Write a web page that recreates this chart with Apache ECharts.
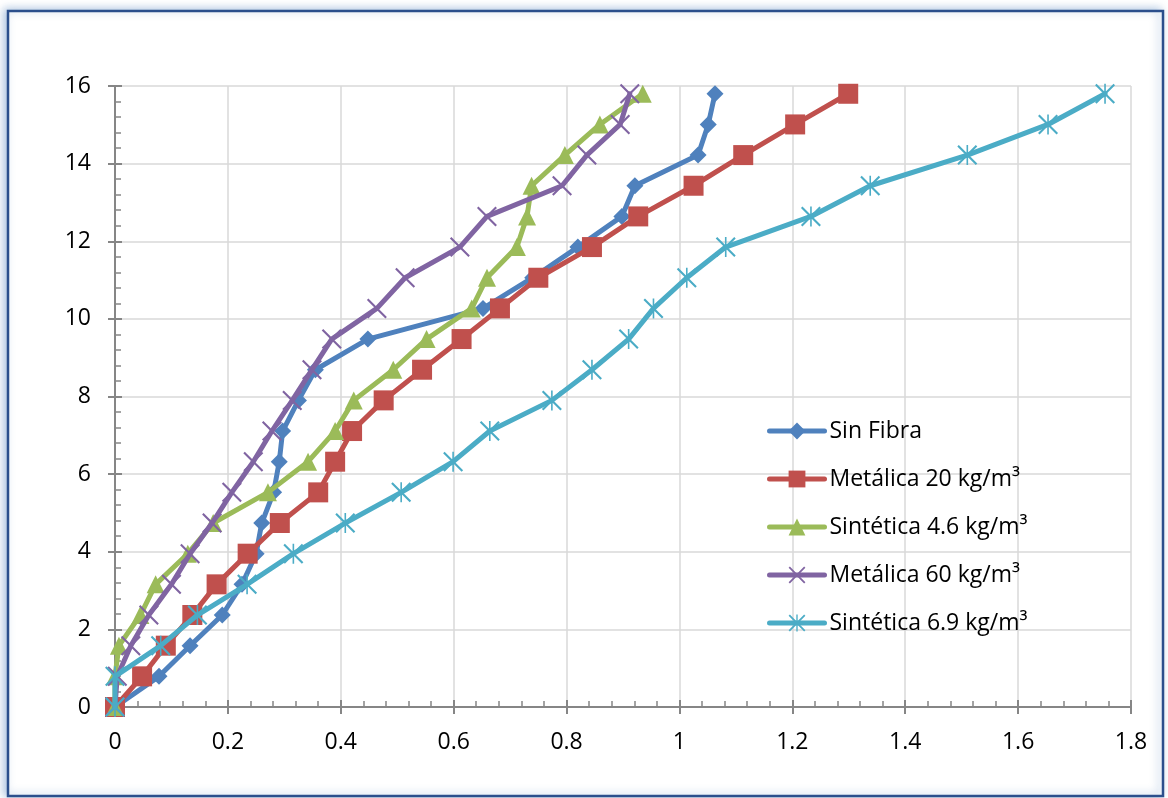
<!DOCTYPE html>
<html>
<head>
<meta charset="utf-8">
<script src="https://cdn.jsdelivr.net/npm/echarts@6/dist/echarts.min.js"></script>
<style>
  html, body { margin: 0; padding: 0; background: #ffffff; }
  #chart { width: 1168px; height: 798px; }
</style>
</head>
<body>
<div id="chart"></div>
<script>
// Load levels (vertical axis), shared by every series
const loadLevels = [0, 0.79, 1.58, 2.37, 3.16, 3.95, 4.74, 5.53, 6.32, 7.11, 7.9,
                    8.69, 9.48, 10.27, 11.06, 11.85, 12.64, 13.43, 14.22, 15.01, 15.8];

// Horizontal readings for each load level
const sinFibra      = [0, 0.078, 0.133, 0.19, 0.225, 0.25, 0.26, 0.281, 0.291, 0.297, 0.325,
                       0.355, 0.448, 0.652, 0.74, 0.82, 0.898, 0.921, 1.033, 1.051, 1.063];
const metalica20    = [0, 0.048, 0.09, 0.137, 0.18, 0.235, 0.292, 0.36, 0.39, 0.42, 0.476,
                       0.544, 0.614, 0.682, 0.75, 0.845, 0.927, 1.025, 1.113, 1.205, 1.299];
const sintetica46   = [0, 0, 0.007, 0.045, 0.072, 0.129, 0.174, 0.271, 0.342, 0.39, 0.423,
                       0.493, 0.552, 0.632, 0.659, 0.712, 0.73, 0.738, 0.797, 0.859, 0.935];
const metalica60    = [0, 0.004, 0.028, 0.06, 0.1, 0.133, 0.172, 0.207, 0.245, 0.278, 0.314,
                       0.349, 0.384, 0.464, 0.514, 0.611, 0.659, 0.792, 0.836, 0.895, 0.912];
const sintetica69   = [0, 0, 0.081, 0.146, 0.234, 0.316, 0.408, 0.507, 0.599, 0.664, 0.774,
                       0.845, 0.91, 0.954, 1.013, 1.082, 1.233, 1.338, 1.51, 1.653, 1.754];

const seriesNames = ['Sin Fibra', 'Metálica 20 kg/m³', 'Sintética 4.6 kg/m³',
                     'Metálica 60 kg/m³', 'Sintética 6.9 kg/m³'];

// Tick labels
const xTickLabels = ['0', '0.2', '0.4', '0.6', '0.8', '1', '1.2', '1.4', '1.6', '1.8'];
const yTickLabels = ['0', '2', '4', '6', '8', '10', '12', '14', '16'];

const colors = ['#4F81BD', '#C0504D', '#9BBB59', '#8064A2', '#4BACC6'];

// Marker shapes: thin X and asterisk (X plus vertical bar)
const crossPath = 'path://M0,1.5 L1.5,0 L10,8.5 L18.5,0 L20,1.5 L11.5,10 L20,18.5 L18.5,20 L10,11.5 L1.5,20 L0,18.5 L8.5,10 Z';
const starPath = 'path://M0,1.5 L1.5,0 L10,8.5 L18.5,0 L20,1.5 L11.5,10 L20,18.5 L18.5,20 L10,11.5 L1.5,20 L0,18.5 L8.5,10 Z M9.2,0 L10.8,0 L10.8,20 L9.2,20 Z';

const values = [sinFibra, metalica20, sintetica46, metalica60, sintetica69];
const symbols = ['diamond', 'rect', 'triangle', crossPath, starPath];
const symbolSizes = [17, 20, 18, 20, 20];

const FONT = '"Open Sans", "Liberation Sans", sans-serif';
const AXIS_GRAY = '#868686';

const series = values.map((xs, s) => ({
  name: seriesNames[s],
  type: 'line',
  xAxisIndex: 0,
  yAxisIndex: 0,
  data: loadLevels.map((y, i) => [xs[i], y]),
  symbol: symbols[s],
  symbolSize: symbolSizes[s],
  showSymbol: true,
  lineStyle: { color: colors[s], width: 5, join: 'round', cap: 'round' },
  itemStyle: { color: colors[s] },
  emphasis: { disabled: true },
  z: 3 + s
}));

const grid = { left: 115, right: 37, top: 86, bottom: 91 };

const chart = echarts.init(document.getElementById('chart'), null, { renderer: 'canvas' });
chart.setOption({
  animation: false,
  color: colors,
  textStyle: { fontFamily: FONT },
  graphic: [{
    type: 'rect',
    z: -100,
    silent: true,
    shape: { x: 8, y: 11, width: 1155, height: 785 },
    style: {
      fill: '#ffffff',
      stroke: '#2B4F8C',
      lineWidth: 2.5,
      shadowBlur: 8,
      shadowOffsetX: -3,
      shadowOffsetY: -1,
      shadowColor: 'rgba(79,129,189,0.45)'
    }
  }],
  grid: grid,
  legend: {
    orient: 'vertical',
    left: 762,
    top: 413,
    padding: 5,
    itemWidth: 55,
    itemHeight: 21,
    itemGap: 22,
    selectedMode: false,
    lineStyle: { width: 5 },
    textStyle: { fontFamily: FONT, fontSize: 23, color: '#000', lineHeight: 26 },
    data: seriesNames
  },
  xAxis: [{
    type: 'value',
    min: 0, max: 1.8, interval: 0.2,
    axisLine: { show: true, lineStyle: { color: AXIS_GRAY, width: 2 } },
    axisTick: { show: true, inside: true, length: 7, lineStyle: { color: AXIS_GRAY, width: 2 } },
    minorTick: { show: true, splitNumber: 5, length: 6, lineStyle: { color: AXIS_GRAY, width: 1.5 } },
    splitLine: { show: true, lineStyle: { color: '#D9D9D9', width: 1.5 } },
    axisLabel: {
      margin: 24, fontSize: 23, color: '#000', fontFamily: FONT,
      formatter: (v, i) => xTickLabels[i]
    }
  }, {
    type: 'value',
    position: 'bottom',
    min: 0, max: 1.8, interval: 0.2,
    axisLine: { show: false },
    axisTick: { show: true, inside: false, length: 7, lineStyle: { color: AXIS_GRAY, width: 2 } },
    splitLine: { show: false },
    axisLabel: { show: false }
  }],
  yAxis: [{
    type: 'value',
    min: 0, max: 16, interval: 2,
    axisLine: { show: true, lineStyle: { color: AXIS_GRAY, width: 2 } },
    axisTick: { show: true, inside: true, length: 7, lineStyle: { color: AXIS_GRAY, width: 2 } },
    minorTick: { show: true, splitNumber: 5, length: 6, lineStyle: { color: AXIS_GRAY, width: 1.5 } },
    splitLine: { show: true, lineStyle: { color: '#D9D9D9', width: 1.5 } },
    axisLabel: {
      margin: 24, fontSize: 23, color: '#000', fontFamily: FONT,
      formatter: (v, i) => yTickLabels[i]
    }
  }, {
    type: 'value',
    position: 'left',
    min: 0, max: 16, interval: 2,
    axisLine: { show: false },
    axisTick: { show: true, inside: false, length: 7, lineStyle: { color: AXIS_GRAY, width: 2 } },
    splitLine: { show: false },
    axisLabel: { show: false }
  }],
  series: series
});
</script>
</body>
</html>
